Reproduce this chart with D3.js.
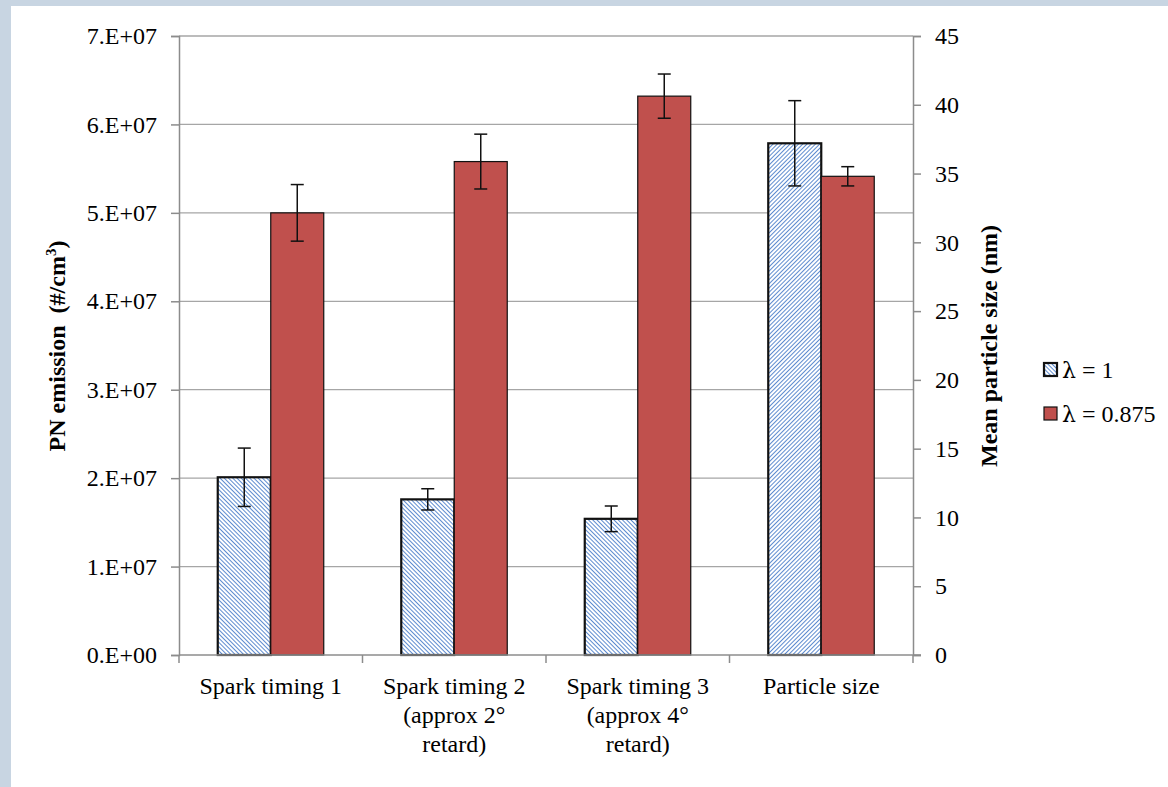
<!DOCTYPE html>
<html>
<head>
<meta charset="utf-8">
<script src="https://cdn.jsdelivr.net/npm/d3@7"></script>
<style>
  html, body { margin: 0; padding: 0; background: #c8d5e2; }
  svg { display: block; }
  text { font-family: "Liberation Serif", "Times New Roman", serif; fill: #000; }
</style>
</head>
<body>
<svg id="chart" width="1168" height="787"></svg>
<script>
// ---------- data ----------
const categories = ["Spark timing 1", "Spark timing 2", "Spark timing 3", "Particle size"];
const categoryLines = [
  ["Spark timing 1"],
  ["Spark timing 2", "(approx 2°", "retard)"],
  ["Spark timing 3", "(approx 4°", "retard)"],
  ["Particle size"]
];
const seriesNames = ["λ = 1", "λ = 0.875"];
// PN emission (#/cm3), left axis – first three categories
const pnLambda1      = [2.01e7, 1.76e7, 1.54e7];
const pnLambda1Err   = [3.3e6, 1.2e6, 1.45e6];
const pnLambda0875   = [5.00e7, 5.58e7, 6.32e7];
const pnLambda0875Err= [3.2e6, 3.1e6, 2.5e6];
// Mean particle size (nm), right axis – last category
const sizeLambda1 = 37.2, sizeLambda1Err = 3.1;
const sizeLambda0875 = 34.8, sizeLambda0875Err = 0.7;
const leftTicks = [0, 1e7, 2e7, 3e7, 4e7, 5e7, 6e7, 7e7];
const rightTicks = [0, 5, 10, 15, 20, 25, 30, 35, 40, 45];

// ---------- layout ----------
const svg = d3.select("#chart");
const plot = { left: 179, right: 913, top: 36, bottom: 655 };

svg.append("rect").attr("x", 11).attr("y", 6).attr("width", 1168 - 11).attr("height", 787 - 6).attr("fill", "#fff");

const defs = svg.append("defs");
function hatch(id, angle) {
  const p = defs.append("pattern").attr("id", id).attr("patternUnits", "userSpaceOnUse")
    .attr("width", 3).attr("height", 10).attr("patternTransform", `rotate(${angle})`);
  p.append("rect").attr("width", 3).attr("height", 10).attr("fill", "#fff");
  p.append("rect").attr("x", 0).attr("width", 1).attr("height", 10).attr("fill", "#5d8bcf");
}
hatch("hatchBack", -45);
hatch("hatchFwd", 45);

const x = d3.scaleBand().domain(categories).range([plot.left, plot.right]).padding(0);
const bw = x.bandwidth();
const x1 = d3.scaleBand().domain(seriesNames).range([bw * 0.2112, bw * 0.7888]).padding(0);
const yL = d3.scaleLinear().domain([0, 7e7]).range([plot.bottom, plot.top]);
const yR = d3.scaleLinear().domain([0, 45]).range([plot.bottom, plot.top]);

function sci(v) {
  if (v === 0) return "0.E+00";
  const e = Math.floor(Math.log10(v));
  const m = Math.round(v / Math.pow(10, e));
  return m + ".E+" + String(e).padStart(2, "0");
}

// gridlines
svg.append("g").selectAll("line").data(leftTicks.filter(t => t > 0)).join("line")
  .attr("x1", plot.left).attr("x2", plot.right)
  .attr("y1", d => yL(d)).attr("y2", d => yL(d))
  .attr("stroke", "#a6a6a6").attr("stroke-width", 1.3);

// left axis
const gL = svg.append("g").attr("transform", `translate(${plot.left},0)`)
  .call(d3.axisLeft(yL).tickValues(leftTicks).tickFormat(sci).tickSize(8).tickPadding(14));
// right axis
const gR = svg.append("g").attr("transform", `translate(${plot.right},0)`)
  .call(d3.axisRight(yR).tickValues(rightTicks).tickFormat(d3.format("d")).tickSize(8).tickPadding(14));
[gL, gR].forEach(g => {
  g.select(".domain").attr("stroke", "#8c8c8c").attr("stroke-width", 1.5);
  g.selectAll(".tick line").attr("stroke", "#8c8c8c").attr("stroke-width", 1.5);
  g.selectAll(".tick text").attr("font-size", 24).attr("font-family", "Liberation Serif").attr("fill", "#000");
});

// bars
const rows = [];
categories.forEach((c, i) => {
  if (i < 3) {
    rows.push({ cat: c, s: seriesNames[0], v: pnLambda1[i], e: pnLambda1Err[i], y: yL, fill: "url(#hatchBack)" });
    rows.push({ cat: c, s: seriesNames[1], v: pnLambda0875[i], e: pnLambda0875Err[i], y: yL, fill: "#c0504d" });
  } else {
    rows.push({ cat: c, s: seriesNames[0], v: sizeLambda1, e: sizeLambda1Err, y: yR, fill: "url(#hatchFwd)" });
    rows.push({ cat: c, s: seriesNames[1], v: sizeLambda0875, e: sizeLambda0875Err, y: yR, fill: "#c0504d" });
  }
});

const bars = svg.append("g");
bars.selectAll("rect").data(rows).join("rect")
  .attr("x", d => x(d.cat) + x1(d.s))
  .attr("width", x1.bandwidth())
  .attr("y", d => d.y(d.v))
  .attr("height", d => plot.bottom - d.y(d.v))
  .attr("fill", d => d.fill)
  .attr("stroke", "#111")
  .attr("stroke-width", d => d.s === seriesNames[0] ? 2.2 : 1.2);

// error bars
const eb = svg.append("g").attr("stroke", "#111").attr("stroke-width", 1.5);
rows.forEach(d => {
  const cx = x(d.cat) + x1(d.s) + x1.bandwidth() / 2;
  const t = d.y(d.v + d.e), b = d.y(d.v - d.e);
  eb.append("line").attr("x1", cx).attr("x2", cx).attr("y1", t).attr("y2", b);
  eb.append("line").attr("x1", cx - 6.5).attr("x2", cx + 6.5).attr("y1", t).attr("y2", t);
  eb.append("line").attr("x1", cx - 6.5).attr("x2", cx + 6.5).attr("y1", b).attr("y2", b);
});

// x axis
svg.append("line").attr("x1", plot.left).attr("x2", plot.right + 8)
  .attr("y1", plot.bottom).attr("y2", plot.bottom).attr("stroke", "#8c8c8c").attr("stroke-width", 1.5);
const bounds = categories.map(c => x(c)).concat([plot.right]);
svg.append("g").selectAll("line").data(bounds).join("line")
  .attr("x1", d => d).attr("x2", d => d).attr("y1", plot.bottom).attr("y2", plot.bottom + 8)
  .attr("stroke", "#8c8c8c").attr("stroke-width", 1.5);
const catG = svg.append("g");
categoryLines.forEach((lines, i) => {
  const cx = x(categories[i]) + bw / 2;
  lines.forEach((ln, j) => {
    catG.append("text").attr("x", cx).attr("y", 694 + j * 29).attr("text-anchor", "middle")
      .attr("font-size", 24).text(ln);
  });
});

// axis titles
const lt = svg.append("text").attr("transform", "translate(65,346) rotate(-90)")
  .attr("text-anchor", "middle").attr("font-size", 24).attr("font-weight", "bold");
lt.append("tspan").text("PN emission\u00a0\u00a0(#/cm");
lt.append("tspan").attr("font-size", 15).attr("dy", -9).text("3");
lt.append("tspan").attr("dy", 9).text(")");

svg.append("text").attr("transform", "translate(997,346) rotate(-90)")
  .attr("text-anchor", "middle").attr("font-size", 24).attr("font-weight", "bold")
  .text("Mean particle size (nm)");

// legend
const legFills = ["url(#hatchBack)", "#c0504d"];
const leg = svg.append("g");
seriesNames.forEach((s, i) => {
  const yy = 363 + i * 44;
  leg.append("rect").attr("x", 1044).attr("y", yy).attr("width", 13).attr("height", 13)
    .attr("fill", legFills[i]).attr("stroke", "#111").attr("stroke-width", i === 0 ? 2.2 : 1.2);
  const t = leg.append("text").attr("x", 1062).attr("y", yy + 15).attr("font-size", 24);
  t.append("tspan").attr("font-family", "DejaVu Serif").attr("font-size", 22).text(s.slice(0, 1));
  t.append("tspan").attr("font-family", "Liberation Serif").text(s.slice(1).replace(/ /g, "\u00a0"));
});
</script>
</body>
</html>
